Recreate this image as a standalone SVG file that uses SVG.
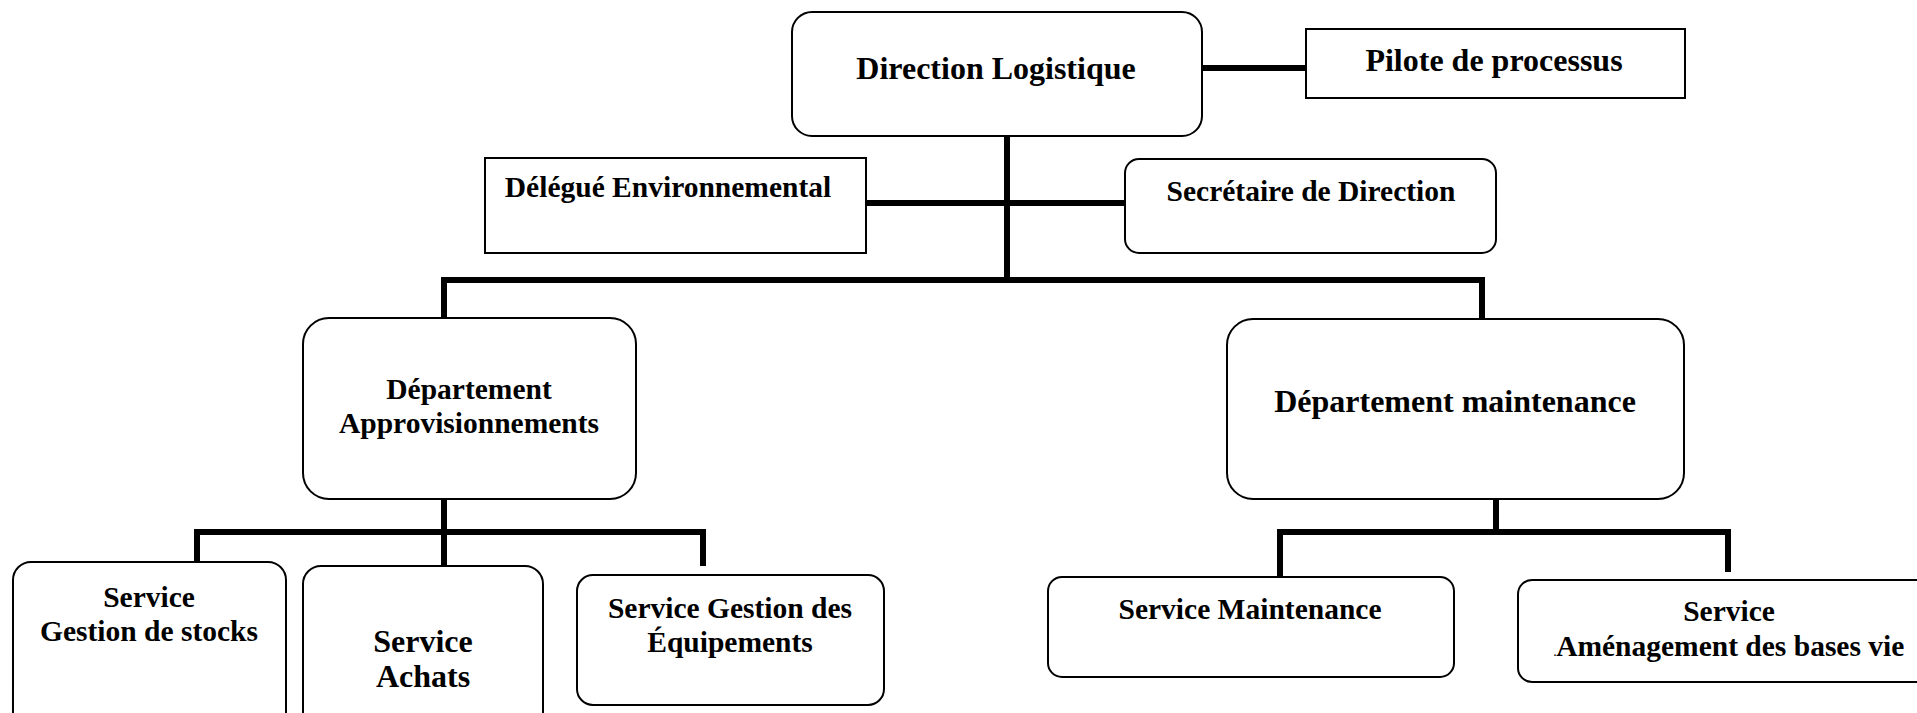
<svg xmlns="http://www.w3.org/2000/svg" width="1917" height="713" viewBox="0 0 1917 713">
  <style>
    .box { fill: #ffffff; stroke: #000000; stroke-width: 2; }
    .lbl { font-family: "Liberation Serif", "Times New Roman", serif; font-weight: bold; font-size: 29.5px; fill: #000000; text-anchor: middle; }
    .big { font-size: 32px; }
    .wire { fill: none; stroke: #000000; stroke-width: 6; stroke-linecap: butt; }
  </style>
  <rect width="1917" height="713" fill="#ffffff"/>

  <!-- connectors -->
  <g id="connectors">
    <line class="wire" x1="1202" y1="68" x2="1306" y2="68"/>
    <line class="wire" x1="1007" y1="136" x2="1007" y2="283"/>
    <line class="wire" x1="866" y1="203" x2="1125" y2="203"/>
    <line class="wire" x1="441" y1="280" x2="1485" y2="280"/>
    <line class="wire" x1="444" y1="277" x2="444" y2="318"/>
    <line class="wire" x1="1482" y1="277" x2="1482" y2="319"/>
    <line class="wire" x1="444" y1="499" x2="444" y2="566"/>
    <line class="wire" x1="194" y1="532" x2="706" y2="532"/>
    <line class="wire" x1="197" y1="529" x2="197" y2="562"/>
    <line class="wire" x1="703" y1="529" x2="703" y2="566"/>
    <line class="wire" x1="1496" y1="499" x2="1496" y2="532"/>
    <line class="wire" x1="1277" y1="532" x2="1731" y2="532"/>
    <line class="wire" x1="1280" y1="529" x2="1280" y2="577"/>
    <line class="wire" x1="1728" y1="529" x2="1728" y2="572"/>
  </g>

  <g id="direction-logistique">
    <rect class="box" x="792" y="12" width="410" height="124" rx="20"/>
    <text class="lbl big" x="996" y="79">Direction Logistique</text>
  </g>

  <g id="pilote-processus">
    <rect class="box" x="1306" y="29" width="379" height="69"/>
    <text class="lbl big" x="1494" y="71">Pilote de processus</text>
  </g>

  <g id="delegue-environnemental">
    <rect class="box" x="485" y="158" width="381" height="95"/>
    <text class="lbl" x="668" y="197">Délégué Environnemental</text>
  </g>

  <g id="secretaire-direction">
    <rect class="box" x="1125" y="159" width="371" height="94" rx="14"/>
    <text class="lbl" x="1311" y="201">Secrétaire de Direction</text>
  </g>

  <g id="departement-approvisionnements">
    <rect class="box" x="303" y="318" width="333" height="181" rx="26"/>
    <text class="lbl" x="469" y="399">Département</text>
    <text class="lbl" x="469" y="433">Approvisionnements</text>
  </g>

  <g id="departement-maintenance">
    <rect class="box" x="1227" y="319" width="457" height="180" rx="26"/>
    <text class="lbl big" x="1455" y="412">Département maintenance</text>
  </g>

  <g id="service-gestion-stocks">
    <rect class="box" x="13" y="562" width="273" height="170" rx="18"/>
    <text class="lbl" x="149" y="607">Service</text>
    <text class="lbl" x="149" y="641">Gestion de stocks</text>
  </g>

  <g id="service-achats">
    <rect class="box" x="303" y="566" width="240" height="166" rx="18"/>
    <text class="lbl big" x="423" y="652">Service</text>
    <text class="lbl big" x="423" y="687">Achats</text>
  </g>

  <g id="service-gestion-equipements">
    <rect class="box" x="577" y="575" width="307" height="130" rx="16"/>
    <text class="lbl" x="730" y="618">Service Gestion des</text>
    <text class="lbl" x="730" y="652">Équipements</text>
  </g>

  <g id="service-maintenance">
    <rect class="box" x="1048" y="577" width="406" height="100" rx="14"/>
    <text class="lbl" x="1250" y="619">Service Maintenance</text>
  </g>

  <g id="service-amenagement">
    <rect class="box" x="1518" y="580" width="420" height="102" rx="14"/>
    <text class="lbl" x="1729" y="621">Service</text>
    <text class="lbl" x="1729" y="656"><tspan font-size="10">.</tspan>Aménagement des bases vie</text>
  </g>
</svg>
